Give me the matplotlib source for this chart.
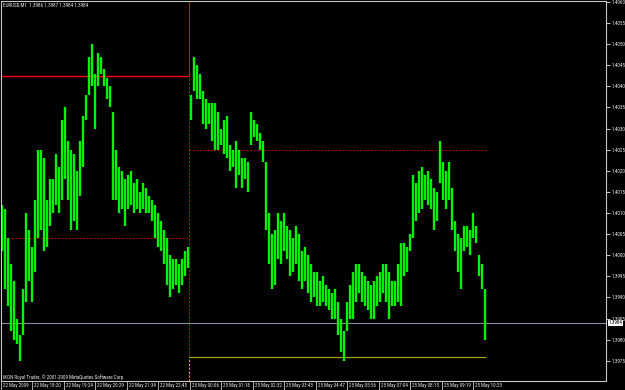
import numpy as np
import matplotlib
matplotlib.use("Agg")
import matplotlib.pyplot as plt
from matplotlib import font_manager
from matplotlib.transforms import blended_transform_factory, ScaledTranslation

# ---- data (EURUSD M1 bars) ----
day1_high = [1.4012, 1.4011, 1.4004, 1.3998, 1.3994, 1.3985, 1.3981, 1.3992, 1.4010, 1.4006,
             1.4002, 1.4013, 1.4025, 1.4025, 1.4023, 1.4013, 1.4018, 1.4018, 1.4024, 1.4021,
             1.4032, 1.4035, 1.4027, 1.4025, 1.4024, 1.4020, 1.4027, 1.4033, 1.4038, 1.4047,
             1.4050, 1.4043, 1.4048, 1.4047, 1.4044, 1.4042, 1.4040, 1.4034, 1.4025, 1.4021,
             1.4020, 1.4018, 1.4019, 1.4020, 1.4017, 1.4018, 1.4015, 1.4017, 1.4016, 1.4014,
             1.4013, 1.4012, 1.4010, 1.4008, 1.4006, 1.4004, 1.4000, 1.3999, 1.3999, 1.3998,
             1.3999, 1.4001, 1.4002]
day1_low = [1.4001, 1.3992, 1.3988, 1.3982, 1.3980, 1.3979, 1.3975, 1.3981, 1.3989, 1.3994,
            1.3989, 1.3996, 1.4004, 1.4006, 1.4001, 1.4002, 1.4007, 1.4010, 1.4012, 1.4010,
            1.4013, 1.4018, 1.4013, 1.4006, 1.4008, 1.4006, 1.4014, 1.4021, 1.4032, 1.4038,
            1.4040, 1.4030, 1.4040, 1.4043, 1.4040, 1.4037, 1.4035, 1.4013, 1.4013, 1.4010,
            1.4011, 1.4007, 1.4011, 1.4012, 1.4010, 1.4011, 1.4010, 1.4011, 1.4010, 1.4010,
            1.4008, 1.4004, 1.4002, 1.4001, 1.3998, 1.3993, 1.3990, 1.3992, 1.3993, 1.3991,
            1.3993, 1.3995, 1.3997]
day2_high = [1.4038, 1.4047, 1.4045, 1.4043, 1.4039, 1.4037, 1.4036, 1.4036, 1.4036, 1.4034,
             1.4030, 1.4032, 1.4033, 1.4026, 1.4025, 1.4027, 1.4025, 1.4023, 1.4023, 1.4022,
             1.4034, 1.4032, 1.4031, 1.4029, 1.4027, 1.4022, 1.4010, 1.4005, 1.4006, 1.4010,
             1.4008, 1.4010, 1.4007, 1.4006, 1.4004, 1.4007, 1.4005, 1.4001, 1.4002, 1.4000,
             1.3998, 1.3996, 1.3996, 1.3994, 1.3995, 1.3993, 1.3992, 1.3991, 1.3992, 1.3989,
             1.3985, 1.3982, 1.3989, 1.3993, 1.3996, 1.3998, 1.3998, 1.3996, 1.3995, 1.3994,
             1.3993, 1.3994, 1.3995, 1.3996, 1.3998, 1.3998, 1.3996, 1.3994, 1.3994, 1.3998,
             1.4003, 1.4003, 1.4002, 1.4005, 1.4019, 1.4017, 1.4020, 1.4021, 1.4019, 1.4020,
             1.4018, 1.4016, 1.4015, 1.4027, 1.4022, 1.4020, 1.4022, 1.4016, 1.4008, 1.4005,
             1.4004, 1.4007, 1.4007, 1.4006, 1.4010, 1.4007, 1.4000, 1.3998, 1.3992]
day2_low = [1.4032, 1.4039, 1.4037, 1.4037, 1.4031, 1.4030, 1.4031, 1.4027, 1.4025, 1.4025,
            1.4026, 1.4024, 1.4023, 1.4020, 1.4021, 1.4016, 1.4019, 1.4016, 1.4018, 1.4015,
            1.4026, 1.4028, 1.4027, 1.4025, 1.4022, 1.4006, 1.3998, 1.3992, 1.3993, 1.3999,
            1.3998, 1.4001, 1.3999, 1.3995, 1.3996, 1.3998, 1.3994, 1.3992, 1.3994, 1.3991,
            1.3989, 1.3990, 1.3988, 1.3988, 1.3989, 1.3988, 1.3987, 1.3985, 1.3985, 1.3981,
            1.3977, 1.3975, 1.3982, 1.3985, 1.3985, 1.3989, 1.3991, 1.3989, 1.3988, 1.3987,
            1.3985, 1.3985, 1.3988, 1.3989, 1.3991, 1.3989, 1.3985, 1.3988, 1.3988, 1.3989,
            1.3988, 1.3995, 1.3996, 1.4001, 1.4004, 1.4008, 1.4010, 1.4011, 1.4013, 1.4012,
            1.4011, 1.4006, 1.4008, 1.4017, 1.4013, 1.4011, 1.4013, 1.4006, 1.4001, 1.3996,
            1.3992, 1.4001, 1.4002, 1.4000, 1.4004, 1.4003, 1.3995, 1.3992, 1.3980]

time_labels = ["22 May 2009", "22 May 18:20", "22 May 19:24", "22 May 20:29", "22 May 21:34",
               "22 May 22:45", "25 May 00:06", "25 May 01:18", "25 May 02:32", "25 May 03:43",
               "25 May 04:47", "25 May 05:56", "25 May 07:04", "25 May 08:15", "25 May 09:19",
               "25 May 10:23"]
price_ticks = [1.4060, 1.4055, 1.4050, 1.4045, 1.4040, 1.4035, 1.4030, 1.4025, 1.4020,
               1.4015, 1.4010, 1.4005, 1.4000, 1.3995, 1.3990, 1.3985, 1.3980, 1.3975]

prev_high = 1.40425      # solid red, previous day
prev_mid = 1.4004        # dotted red, previous day
day_mid = 1.4025         # dotted red, current day
day_low = 1.3976         # olive, current day
bid = 1.3984
title = "EURUSD,M1  1.3986 1.3987 1.3984 1.3984"
copyright_txt = "IKON Royal Trader, \u00a9 2001-2009 MetaQuotes Software Corp."

# ---- font choice: narrowest installed face ----
names = {f.name for f in font_manager.fontManager.ttflist}
family = 'DejaVu Sans'
for cand in ['Liberation Sans Narrow', 'DejaVu Sans Condensed', 'Roboto Condensed',
             'Open Sans Condensed', 'Liberation Sans', 'Roboto']:
    if cand in names:
        family = cand
        break
plt.rcParams['font.family'] = [family, 'DejaVu Sans']

# ---- figure ----
highs = np.array(day1_high + day2_high)
lows = np.array(day1_low + day2_low)
n = len(highs)
xs = np.arange(n)
split = len(day1_high) - 0.5

W, H = 625, 390
fig = plt.figure(figsize=(W / 100, H / 100), dpi=100, facecolor='black')
renderer = fig.canvas.get_renderer()


def fit_size(sample, target_px):
    t = fig.text(0, 0, sample, fontsize=10)
    w = t.get_window_extent(renderer=renderer).width
    t.remove()
    return 10.0 * target_px / w


fs = fit_size("22 May 18:20", 27)

ax = fig.add_axes([1 / W, 9 / H, 605 / W, 380 / H])
ax.set_facecolor('black')
x0, x1 = -1 / 6, 201.5
y0, y1 = 1.39702, 1.40602
ax.set_xlim(x0, x1)
ax.set_ylim(y0, y1)

txtc = '#e8e8e8'

# level lines
ax.axhline(bid, color='#8090a0', lw=0.8, zorder=1)
ax.hlines(prev_high, x0, split, colors='#ff0000', lw=1.0, zorder=1)
ax.hlines(prev_mid, x0, split, colors='#c00000', lw=0.8, linestyles=(0, (1.6, 1.6)), zorder=1)
ax.hlines(day_mid, split, n - 0.5, colors='#c00000', lw=0.8, linestyles=(0, (1.6, 1.6)), zorder=1)
ax.hlines(day_low, split, n - 0.5, colors='#a0a010', lw=0.9, zorder=1)
ax.vlines(split, prev_high, y1, colors='#ff0000', lw=0.8, zorder=1)
ax.vlines(split, day_low, prev_high, colors='#d00000', lw=0.8, linestyles=(0, (2, 1.5)), zorder=1)
ax.vlines(split, y0, day_low, colors='#ff9a20', lw=0.8, linestyles=(0, (2, 1.5)), zorder=1)

# bars
ax.vlines(xs, lows, highs, colors='#00f400', lw=1.7, zorder=2)

# spines
for s in ax.spines.values():
    s.set_color('#c8c8c8')
    s.set_linewidth(0.8)

# y axis (right)
ax.yaxis.tick_right()
ax.set_yticks(price_ticks)
ax.set_yticklabels([f"{v:.4f}" for v in price_ticks])
ax.tick_params(axis='y', colors=txtc, length=3, width=0.6, pad=1, labelsize=fs)

# x axis
tick_pos = [-0.25 + 10.5 * k for k in range(len(time_labels))]
ax.set_xticks(tick_pos)
ax.set_xticklabels([])
ax.tick_params(axis='x', colors='#c8c8c8', length=7, width=0.6)
trans = blended_transform_factory(ax.transData, ax.transAxes) + \
    ScaledTranslation(2 / 100, -1.5 / 100, fig.dpi_scale_trans)
for p, lab in zip(tick_pos, time_labels):
    ax.text(p, 0, lab, transform=trans, ha='left', va='top', fontsize=fs, color=txtc)

# bid label
btrans = blended_transform_factory(ax.transAxes, ax.transData) + \
    ScaledTranslation(3 / 100, 0, fig.dpi_scale_trans)
ax.text(1.0, bid, f"{bid:.4f}", transform=btrans, ha='left', va='center', fontsize=fs,
        color='black', bbox=dict(facecolor='white', edgecolor='none', pad=0.4), zorder=5)

fig.text(3 / W, 1 - 3 / H, title, ha='left', va='top', fontsize=fs, color=txtc)
fig.text(3 / W, 1 - 377 / H, copyright_txt, ha='left', va='center', fontsize=fs, color=txtc)

fig.savefig('out.png', dpi=100, facecolor='black')
